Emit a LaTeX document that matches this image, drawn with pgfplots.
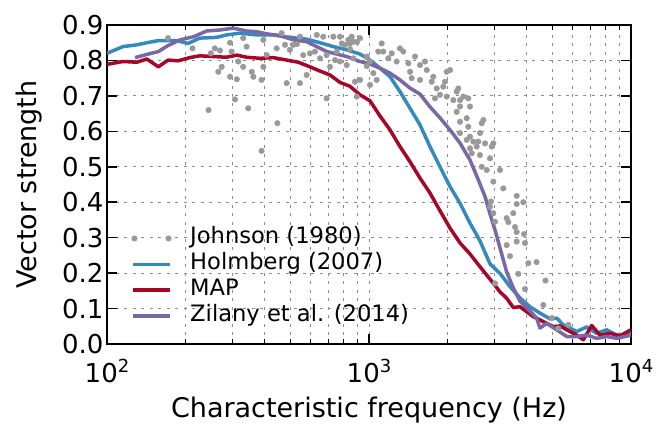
\documentclass[border=0pt]{standalone}
\usepackage{fontspec}
\setmainfont{DejaVu Sans}
\usepackage{pgfplots}
\usepackage{pgfplotstable}
\pgfplotsset{compat=1.18}
\usetikzlibrary{calc}

\definecolor{hblue}{HTML}{348ABD}
\definecolor{mapred}{HTML}{A60628}
\definecolor{zpurple}{HTML}{7A68A6}
\definecolor{dotgray}{HTML}{999999}

% Johnson (1980) measurements
\pgfplotstableread{
f v
171 0.863
212 0.834
244 0.660
249 0.820
258 0.834
270 0.828
266 0.768
274 0.782
295 0.850
299 0.825
295 0.754
308 0.690
313 0.747
317 0.797
331 0.863
341 0.839
346 0.665
331 0.782
357 0.768
362 0.754
389 0.545
389 0.745
395 0.782
395 0.858
407 0.815
444 0.834
447 0.623
464 0.877
478 0.844
485 0.736
499 0.830
514 0.844
531 0.846
545 0.736
545 0.867
561 0.815
578 0.759
595 0.820
622 0.825
632 0.872
650 0.806
669 0.867
689 0.693
689 0.815
710 0.782
731 0.867
742 0.801
753 0.825
775 0.867
775 0.797
787 0.848
810 0.844
822 0.787
834 0.858
846 0.848
846 0.832
859 0.867
871 0.853
871 0.806
884 0.740
898 0.698
900 0.852
924 0.863
924 0.745
980 0.811
980 0.784
1009 0.797
1009 0.731
1039 0.764
1070 0.745
1085 0.825
1118 0.848
1134 0.825
1185 0.806
1221 0.820
1275 0.797
1313 0.834
1352 0.825
1413 0.792
1434 0.768
1455 0.750
1498 0.811
1566 0.745
1566 0.787
1636 0.797
1661 0.773
1735 0.740
1760 0.754
1786 0.693
1813 0.721
1866 0.703
1921 0.726
1950 0.740
1980 0.768
1980 0.698
2038 0.773
2098 0.688
2161 0.712
2161 0.655
2192 0.721
2225 0.688
2225 0.670
2225 0.627
2225 0.595
2291 0.698
2360 0.637
2360 0.576
2393 0.693
2393 0.613
2429 0.670
2429 0.585
2429 0.552
2466 0.538
2501 0.571
2577 0.557
2614 0.571
2652 0.595
2652 0.533
2693 0.623
2693 0.500
2732 0.632
2772 0.566
2814 0.491
2896 0.524
2896 0.387
2922 0.402
2940 0.557
2982 0.566
2982 0.458
2982 0.369
3026 0.345
3026 0.171
3162 0.491
3255 0.439
3354 0.355
3354 0.279
3402 0.344
3452 0.248
3554 0.369
3609 0.330
3662 0.418
3662 0.395
3662 0.316
3662 0.289
3714 0.198
3881 0.400
3905 0.310
3939 0.285
3939 0.155
4055 0.228
4359 0.231
4627 0.110
4717 0.179
4982 0.073
5279 0.044
5763 0.054
}\johnson

% Holmberg (2007)
\pgfplotstableread{
f v
100 0.820
115 0.839
130 0.844
142 0.850
157 0.856
184 0.856
204 0.848
226 0.863
262 0.865
286 0.872
322 0.877
373 0.872
431 0.872
499 0.865
578 0.860
650 0.850
731 0.839
822 0.830
924 0.818
1009 0.801
1102 0.778
1203 0.754
1313 0.712
1434 0.665
1566 0.618
1709 0.557
1866 0.500
2038 0.444
2225 0.397
2429 0.341
2652 0.291
2896 0.226
3162 0.199
3452 0.162
3770 0.130
4116 0.105
4494 0.087
4907 0.071
5204 0.073
5516 0.054
5850 0.045
6204 0.035
6775 0.048
7396 0.030
8077 0.040
8818 0.025
9346 0.025
10000 0.034
}\holmberg

% MAP
\pgfplotstableread{
f v
100 0.789
115 0.797
130 0.795
142 0.804
157 0.782
171 0.801
187 0.799
207 0.808
226 0.813
254 0.811
286 0.809
313 0.815
341 0.809
384 0.806
431 0.808
485 0.801
537 0.795
595 0.782
650 0.770
710 0.759
775 0.738
846 0.727
924 0.703
1009 0.686
1102 0.643
1203 0.604
1313 0.557
1434 0.514
1566 0.468
1709 0.426
1866 0.376
2038 0.327
2225 0.285
2429 0.254
2652 0.218
2896 0.183
3162 0.147
3354 0.129
3554 0.103
3770 0.105
3999 0.091
4237 0.077
4494 0.068
4767 0.058
5051 0.049
5358 0.051
5683 0.040
6204 0.025
6577 0.012
7080 0.052
7615 0.025
8315 0.030
9078 0.023
10000 0.040
}\map

% Zilany et al. (2014)
\pgfplotstableread{
f v
128 0.808
142 0.817
157 0.825
171 0.842
190 0.858
214 0.867
240 0.883
270 0.886
304 0.891
341 0.883
373 0.881
407 0.875
458 0.870
514 0.858
578 0.853
632 0.839
690 0.825
753 0.818
822 0.811
924 0.797
1009 0.790
1102 0.778
1203 0.764
1313 0.745
1434 0.722
1566 0.705
1709 0.669
1866 0.638
2038 0.604
2225 0.567
2429 0.519
2614 0.463
2772 0.416
2896 0.367
3026 0.322
3162 0.271
3354 0.203
3554 0.158
3770 0.121
4116 0.093
4365 0.073
4494 0.045
4767 0.058
5204 0.040
5683 0.021
6204 0.021
6775 0.025
7396 0.016
8077 0.021
8818 0.016
10000 0.025
}\zilany

\begin{document}
\begin{tikzpicture}
\begin{axis}[
    width=524pt, height=319pt, scale only axis,
    xmode=log, xmin=100, xmax=10000,
    ymin=0, ymax=0.9,
    xtick={100,1000,10000},
    xticklabels={{10\raisebox{0.42em}{\fontsize{18}{18}\selectfont 2}},
                 {10\raisebox{0.42em}{\fontsize{18}{18}\selectfont 3}},
                 {10\raisebox{0.42em}{\fontsize{18}{18}\selectfont 4}}},
    xticklabel style={anchor=base, yshift=-39pt},
    minor xtick={200,300,400,500,600,700,800,900,2000,3000,4000,5000,6000,7000,8000,9000},
    ytick={0,0.1,0.2,0.3,0.4,0.5,0.6,0.7,0.8,0.9},
    minor y tick num=0,
    yticklabel style={/pgf/number format/.cd, fixed, fixed zerofill, precision=1, assume math mode=true},
    ticklabel style={font=\fontsize{26}{30}\selectfont},
    label style={font=\fontsize{27}{32}\selectfont},
    xlabel={Characteristic frequency (Hz)},
    ylabel={Vector strength},
    xlabel style={at={(axis description cs:0.5,0)}, anchor=base, yshift=-74pt},
    ylabel style={at={(axis description cs:-0.1355,0.5)}, anchor=base, rotate=0},
    tick align=inside,
    major tick length=10pt, minor tick length=5pt,
    every tick/.style={black, line width=1.5pt},
    every minor tick/.append style={line width=1pt},
    axis line style={line width=2.5pt},
    grid=both,
    major grid style={dash pattern=on 3pt off 5.5pt, line width=0.9pt, black!45},
    minor grid style={dash pattern=on 3pt off 5.5pt, line width=0.9pt, black!45},
    legend cell align=left,
    legend style={draw=none, fill=none, inner sep=0pt, outer sep=0pt,
        at={(0.0471,0.37)}, anchor=north west,
        font=\fontsize{22.6}{26}\selectfont,
        nodes={inner sep=1pt, text height=17pt, text depth=6pt},
        row sep=0.8pt,
        /tikz/every odd column/.append style={column sep=17pt}},
    legend image code/.code={\draw[#1] (0pt,0pt) -- (37pt,0pt);},
]
\addplot[only marks, mark=*, mark size=2.8pt, color=dotgray,
    mark options={fill=dotgray, draw=none},
    legend image code/.code={\draw[##1] plot coordinates {(1pt,0pt) (35pt,0pt)};}]
    table[x=f, y=v] {\johnson};
\addlegendentry{Johnson (1980)}
\addplot[hblue, line width=3.5pt, line join=round] table[x=f, y=v] {\holmberg};
\addlegendentry{Holmberg (2007)}
\addplot[mapred, line width=3.5pt, line join=round] table[x=f, y=v] {\map};
\addlegendentry{MAP}
\addplot[zpurple, line width=3.5pt, line join=round] table[x=f, y=v] {\zilany};
\addlegendentry{Zilany et al. (2014)}
\end{axis}
\path ($(current axis.south west)+(-107pt,-83pt)$) rectangle ($(current axis.north east)+(35pt,25pt)$);
\end{tikzpicture}
\end{document}
